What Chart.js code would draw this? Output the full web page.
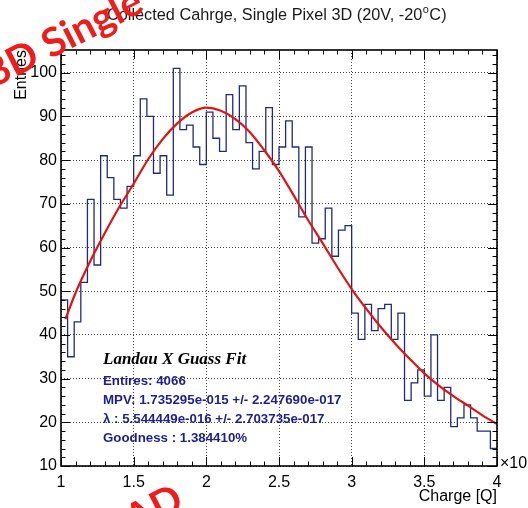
<!DOCTYPE html>
<html>
<head>
<meta charset="utf-8">
<script src="https://cdn.jsdelivr.net/npm/chart.js@4/dist/chart.umd.min.js"></script>
<style>
  html, body { margin: 0; padding: 0; background: #fff; }
  #wrap { width: 528px; height: 508px; position: relative; }
</style>
</head>
<body>
<div id="wrap"><canvas id="c" width="528" height="508"></canvas></div>
<script>
// Collected charge histogram: 66 equal bins from 1 to 4 (x1e-15)
const binLow = 1;
const binHigh = 4;
const nBins = 66;
const binCounts = [
  48, 35, 43, 52, 71, 56, 81, 76, 71, 69,
  74, 81, 94, 90, 77, 81, 72, 101, 87, 88,
  83, 79, 91, 85, 82, 95, 87, 97, 84, 78,
  82, 92, 79, 83, 89, 83, 67, 83, 61, 62,
  69, 58, 64, 65, 45, 39, 47, 41, 46, 47,
  39, 45, 25, 29, 32, 26, 40, 25, 28, 19,
  21, 24, 21, 18, 18, 14
];

// Landau (x) Gauss fit, sampled along the charge axis
const fitX = [1.03, 1.1, 1.2, 1.3, 1.4, 1.5, 1.6, 1.7, 1.8, 1.9,
              2.0, 2.1, 2.2, 2.3, 2.4, 2.5, 2.6, 2.7, 2.8, 2.9,
              3.0, 3.1, 3.2, 3.3, 3.4, 3.5, 3.6, 3.7, 3.8, 3.9, 4.0];
const fitY = [43.6, 49.6, 56.8, 63.2, 69.2, 74.6, 80.2, 84.8, 88.4, 90.9,
              92.0, 91.3, 89.4, 86.4, 82.2, 77.5, 72.0, 66.3, 61.0, 55.6,
              50.5, 46.0, 41.8, 38.0, 34.5, 31.2, 28.4, 26.0, 23.8, 21.6, 19.6];

// Axis ticks
const xTicks = [1, 1.5, 2, 2.5, 3, 3.5, 4];
const xTickLabels = ['1', '1.5', '2', '2.5', '3', '3.5', '4'];
const yTicks = [10, 20, 30, 40, 50, 60, 70, 80, 90, 100];
const yTickLabels = ['10', '20', '30', '40', '50', '60', '70', '80', '90', '100'];
const yMin = 10, yMax = 105.2;

// Fit summary text
const fitTitle = 'Landau X Guass Fit';
const fitLines = [
  'Entires: 4066',
  'MPV: 1.735295e-015 +/- 2.247690e-017',
  '\u03bb : 5.544449e-016 +/- 2.703735e-017',
  'Goodness : 1.384410%'
];

const SANS = '"Liberation Sans", Arial, sans-serif';

// step outline points at each bin's left edge, closed at the upper edge
const binWidth = (binHigh - binLow) / nBins;
const histPoints = binCounts.map((c, i) => ({ x: binLow + i * binWidth, y: c }));
histPoints.push({ x: binHigh, y: binCounts[binCounts.length - 1] });
const fitPoints = fitX.map((x, i) => ({ x, y: fitY[i] }));

// frame with ROOT-style inward ticks on all four sides
const frameTicks = {
  id: 'frameTicks',
  afterDatasetsDraw(chart) {
    const { ctx, chartArea: a, scales: { x, y } } = chart;
    ctx.save();
    ctx.strokeStyle = '#000';
    ctx.lineWidth = 1;
    ctx.beginPath();
    for (let i = 0; i <= 30; i++) {
      const v = binLow + i * 0.1;
      const px = Math.round(x.getPixelForValue(v)) + 0.5;
      const len = (i % 5 === 0) ? 9 : 4.5;
      ctx.moveTo(px, a.bottom); ctx.lineTo(px, a.bottom - len);
      ctx.moveTo(px, a.top); ctx.lineTo(px, a.top + len);
    }
    for (let i = 0; yMin + i * 2 <= yMax; i++) {
      const v = yMin + i * 2;
      const py = Math.round(y.getPixelForValue(v)) + 0.5;
      const len = (i % 5 === 0) ? 9 : 4.5;
      ctx.moveTo(a.left, py); ctx.lineTo(a.left + len, py);
      ctx.moveTo(a.right, py); ctx.lineTo(a.right - len, py);
    }
    ctx.stroke();
    ctx.lineWidth = 1.6;
    ctx.strokeRect(a.left, a.top, a.right - a.left, a.bottom - a.top);
    ctx.restore();
  }
};

// titles, fit summary and the slide's red labels
const textLayer = {
  id: 'textLayer',
  afterDraw(chart) {
    const { ctx, chartArea: a } = chart;
    ctx.save();

    // main title with superscript degree mark
    ctx.fillStyle = '#1a1a1a';
    ctx.textBaseline = 'alphabetic';
    ctx.textAlign = 'left';
    ctx.font = '16.3px ' + SANS;
    let tx = 107;
    const part1 = 'Collected Cahrge, Single Pixel 3D (20V, -20';
    ctx.fillText(part1, tx, 20);
    tx += ctx.measureText(part1).width;
    ctx.font = '11px ' + SANS;
    ctx.fillText('o', tx + 0.5, 13);
    tx += ctx.measureText('o').width + 1;
    ctx.font = '16.3px ' + SANS;
    ctx.fillText('C)', tx, 20);

    // axis titles
    ctx.fillStyle = '#000';
    ctx.font = '16px ' + SANS;
    ctx.textAlign = 'right';
    ctx.fillText('Charge [Q]', a.right, 501);
    ctx.save();
    ctx.translate(26, a.top);
    ctx.rotate(-Math.PI / 2);
    ctx.fillText('Entries', 0, 0);
    ctx.restore();

    // axis exponent
    ctx.textAlign = 'left';
    ctx.fillText('\u00d710', a.right + 3, 468);
    ctx.font = '11px ' + SANS;
    ctx.fillText('-15', a.right + 3 + 28, 460);

    // fit summary
    ctx.fillStyle = '#000';
    ctx.font = 'italic bold 17px "Liberation Serif", "Times New Roman", serif';
    ctx.fillText(fitTitle, 103, 364);
    ctx.fillStyle = '#1e1e90';
    ctx.font = 'bold 13.3px ' + SANS;
    fitLines.forEach((t, i) => ctx.fillText(t, 103, 385 + i * 19));

    // red slide labels
    ctx.fillStyle = '#f01c1c';
    ctx.font = 'bold 40px Lato, "Open Sans", sans-serif';
    ctx.save();
    ctx.translate(-6, 88);
    ctx.rotate(-27 * Math.PI / 180);
    ctx.fillText('3D Single', 0, 0);
    ctx.restore();
    ctx.save();
    ctx.translate(134, 534);
    ctx.rotate(-27 * Math.PI / 180);
    ctx.fillText('AD', 0, 0);
    ctx.restore();

    ctx.restore();
  }
};

new Chart(document.getElementById('c'), {
  type: 'line',
  data: {
    datasets: [
      {
        label: 'fit',
        data: fitPoints,
        borderColor: '#e3140f',
        borderWidth: 2.2,
        pointRadius: 0,
        cubicInterpolationMode: 'monotone',
        fill: false,
        order: 0
      },
      {
        label: 'hist',
        data: histPoints,
        stepped: true,
        borderColor: '#222a7e',
        borderWidth: 1.3,
        pointRadius: 0,
        fill: false,
        order: 1
      }
    ]
  },
  options: {
    responsive: false,
    animation: false,
    devicePixelRatio: 1,
    layout: { padding: { top: 50, right: 31, left: 0, bottom: 0 } },
    plugins: {
      legend: { display: false },
      tooltip: { enabled: false },
      title: { display: false }
    },
    scales: {
      x: {
        type: 'linear',
        min: binLow,
        max: binHigh,
        afterFit(s) { s.height = 42; },
        afterBuildTicks(s) { s.ticks = xTicks.map(v => ({ value: v })); },
        ticks: {
          callback: (v, i) => xTickLabels[i],
          font: { family: SANS, size: 16 },
          color: '#000',
          padding: 7,
          maxRotation: 0,
          autoSkip: false
        },
        grid: { color: '#444', lineWidth: 1, drawTicks: false },
        border: { display: false, dash: [1, 2] }
      },
      y: {
        type: 'linear',
        min: yMin,
        max: yMax,
        afterFit(s) { s.width = 61; },
        afterBuildTicks(s) { s.ticks = yTicks.map(v => ({ value: v })); },
        ticks: {
          callback: (v, i) => yTickLabels[i],
          font: { family: SANS, size: 16 },
          color: '#000',
          padding: 4,
          autoSkip: false,
          includeBounds: false
        },
        grid: { color: '#444', lineWidth: 1, drawTicks: false },
        border: { display: false, dash: [1, 2] }
      }
    }
  },
  plugins: [frameTicks, textLayer]
});
</script>
</body>
</html>
